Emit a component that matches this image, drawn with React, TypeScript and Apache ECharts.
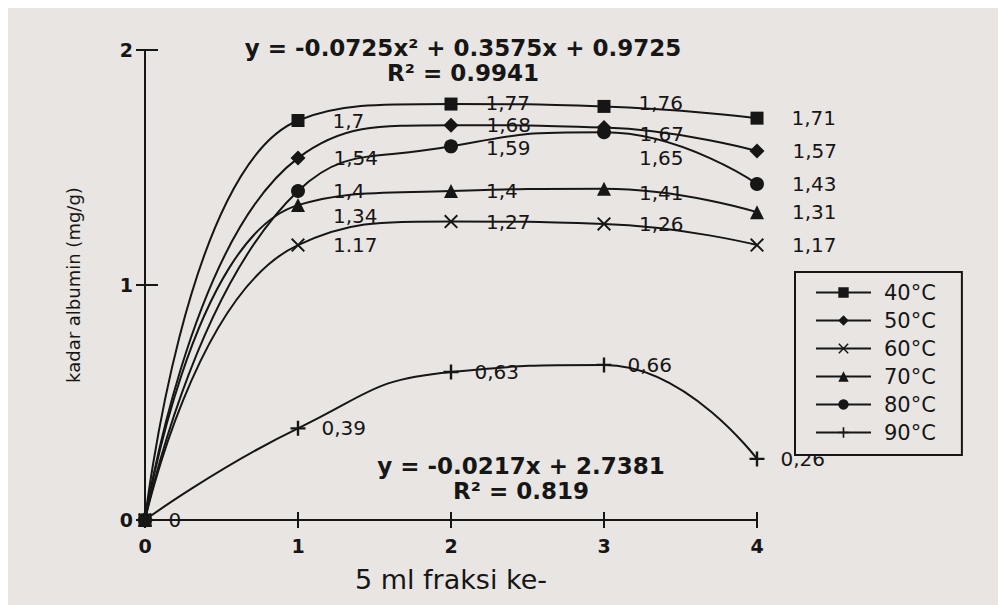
import React, { useEffect, useRef } from "react";
import * as echarts from "echarts";

// ---- data ----
const fractions = [0, 1, 2, 3, 4];
const xTicks = ["0", "1", "2", "3", "4"];
const seriesNames = ["40°C", "50°C", "60°C", "70°C", "80°C", "90°C"];

const values40 = [0, 1.7, 1.77, 1.76, 1.71];
const values50 = [0, 1.54, 1.68, 1.67, 1.57];
const values60 = [0, 1.17, 1.27, 1.26, 1.17];
const values70 = [0, 1.34, 1.4, 1.41, 1.31];
const values80 = [0, 1.4, 1.59, 1.65, 1.43];
const values90 = [0, 0.39, 0.63, 0.66, 0.26];

const labels40 = ["", "1,7", "1,77", "1,76", "1,71"];
const labels50 = ["", "1,54", "1,68", "1,67", "1,57"];
const labels60 = ["", "1.17", "1,27", "1,26", "1,17"];
const labels70 = ["", "1,34", "1,4", "1,41", "1,31"];
const labels80 = ["", "1,4", "1,59", "1,65", "1,43"];
const labels90 = ["0", "0,39", "0,63", "0,66", "0,26"];

const equationTop = "y = -0.0725x² + 0.3575x + 0.9725";
const rSquaredTop = "R² = 0.9941";
const equationBottom = "y = -0.0217x + 2.7381";
const rSquaredBottom = "R² = 0.819";

const xAxisTitle = "5 ml fraksi ke-";
const yAxisTitle = "kadar albumin (mg/g)";

// ---- styles ----
const INK = "#161616";
const BG = "#e9e5e2";
const FONT = "'DejaVu Sans', 'Liberation Sans', Arial, sans-serif";
const crossSymbol =
  "path://M1,0L5,4L9,0L10,1L6,5L10,9L9,10L5,6L1,10L0,9L4,5L0,1Z";
const plusSymbol =
  "path://M4.2,0H5.8V4.2H10V5.8H5.8V10H4.2V5.8H0V4.2H4.2Z";

const seriesStyle = [
  { symbol: "rect", size: 13, labelDistance: 28 },
  { symbol: "diamond", size: 15, labelDistance: 28 },
  { symbol: crossSymbol, size: 14, labelDistance: 28 },
  { symbol: "triangle", size: 14, labelDistance: 28 },
  { symbol: "circle", size: 14, labelDistance: 28 },
  { symbol: plusSymbol, size: 15, labelDistance: 16 },
];

// label nudges [dx, dy] per series index -> point index
const labelNudges: Record<number, Record<number, number[]>> = {
  0: { 2: [0, -1], 3: [0, -3] },
  1: { 3: [0, 6] },
  3: { 1: [0, 11], 3: [0, 4] },
  4: { 2: [0, 2], 3: [0, 26] },
};

export default function App() {
  const ref = useRef<HTMLDivElement>(null);

  useEffect(() => {
    if (!ref.current) return;
    const chart = echarts.init(ref.current, undefined, { renderer: "svg" });

    const allValues = [values40, values50, values60, values70, values80, values90];
    const allLabels = [labels40, labels50, labels60, labels70, labels80, labels90];

    const series = seriesNames.map((name, si) => ({
      name,
      type: "line",
      xAxisIndex: 0,
      yAxisIndex: 0,
      smooth: 0.5,
      symbol: seriesStyle[si].symbol,
      symbolSize: seriesStyle[si].size,
      lineStyle: { color: INK, width: 2 },
      itemStyle: { color: INK },
      z: 3,
      data: fractions.map((x, i) => {
        const nudge = labelNudges[si]?.[i];
        const item: any = { value: [x, allValues[si][i]] };
        if (nudge) item.label = { offset: nudge };
        return item;
      }),
      label: {
        show: true,
        position: "right",
        distance: seriesStyle[si].labelDistance,
        color: INK,
        fontFamily: FONT,
        fontSize: 20,
        lineHeight: 20,
        formatter: (p: any) => allLabels[si][p.dataIndex],
      },
    }));

    const baseX = {
      type: "value",
      min: 0,
      max: 4,
      interval: 1,
      position: "bottom",
      splitLine: { show: false },
    };
    const baseY = {
      type: "value",
      min: 0,
      max: 2,
      interval: 1,
      position: "left",
      splitLine: { show: false },
    };

    chart.setOption({
      animation: false,
      backgroundColor: BG,
      grid: { left: 137, right: 249, top: 42, bottom: 85 },
      xAxis: [
        {
          ...baseX,
          name: xAxisTitle,
          nameLocation: "middle",
          nameGap: 46,
          nameTextStyle: { color: INK, fontFamily: FONT, fontSize: 27 },
          axisLine: { show: true, onZero: false, lineStyle: { color: INK, width: 2 } },
          axisTick: { show: true, inside: false, length: 8, lineStyle: { color: INK, width: 2 } },
          axisLabel: {
            color: INK,
            fontFamily: FONT,
            fontSize: 19,
            fontWeight: "bold",
            margin: 16,
            formatter: (v: number) => xTicks[v] ?? "",
          },
        },
        {
          ...baseX,
          axisLine: { show: false },
          axisTick: { show: true, inside: true, length: 8, lineStyle: { color: INK, width: 2 } },
          axisLabel: { show: false },
        },
      ],
      yAxis: [
        {
          ...baseY,
          name: yAxisTitle,
          nameLocation: "middle",
          nameGap: 63,
          nameRotate: 90,
          nameTextStyle: { color: INK, fontFamily: FONT, fontSize: 18 },
          axisLine: { show: true, onZero: false, lineStyle: { color: INK, width: 2 } },
          axisTick: { show: true, inside: false, length: 9, lineStyle: { color: INK, width: 2 } },
          axisLabel: {
            color: INK,
            fontFamily: FONT,
            fontSize: 19,
            fontWeight: "bold",
            margin: 12,
          },
        },
        {
          ...baseY,
          axisLine: { show: false },
          axisTick: { show: true, inside: true, length: 13, lineStyle: { color: INK, width: 2 } },
          axisLabel: { show: false },
        },
      ],
      legend: {
        orient: "vertical",
        left: 787,
        top: 264,
        padding: [10, 26, 12, 20],
        backgroundColor: BG,
        borderColor: INK,
        borderWidth: 2,
        borderRadius: 0,
        itemWidth: 55,
        itemHeight: 13,
        itemGap: 7,
        data: seriesNames,
        textStyle: {
          color: INK,
          fontFamily: FONT,
          fontSize: 21,
          lineHeight: 21,
          padding: [0, 0, 0, 8],
        },
      },
      graphic: [
        {
          type: "text",
          x: 455,
          y: 27,
          style: {
            text: equationTop + "\n" + rSquaredTop,
            fill: INK,
            font: `bold 23px ${FONT}`,
            lineHeight: 25,
            align: "center",
            verticalAlign: "top",
          },
        },
        {
          type: "text",
          x: 513,
          y: 445,
          style: {
            text: equationBottom + "\n" + rSquaredBottom,
            fill: INK,
            font: `bold 23px ${FONT}`,
            lineHeight: 25,
            align: "center",
            verticalAlign: "top",
          },
        },
      ],
      series,
    });

    return () => chart.dispose();
  }, []);

  return <div ref={ref} style={{ width: 998, height: 597 }} />;
}
